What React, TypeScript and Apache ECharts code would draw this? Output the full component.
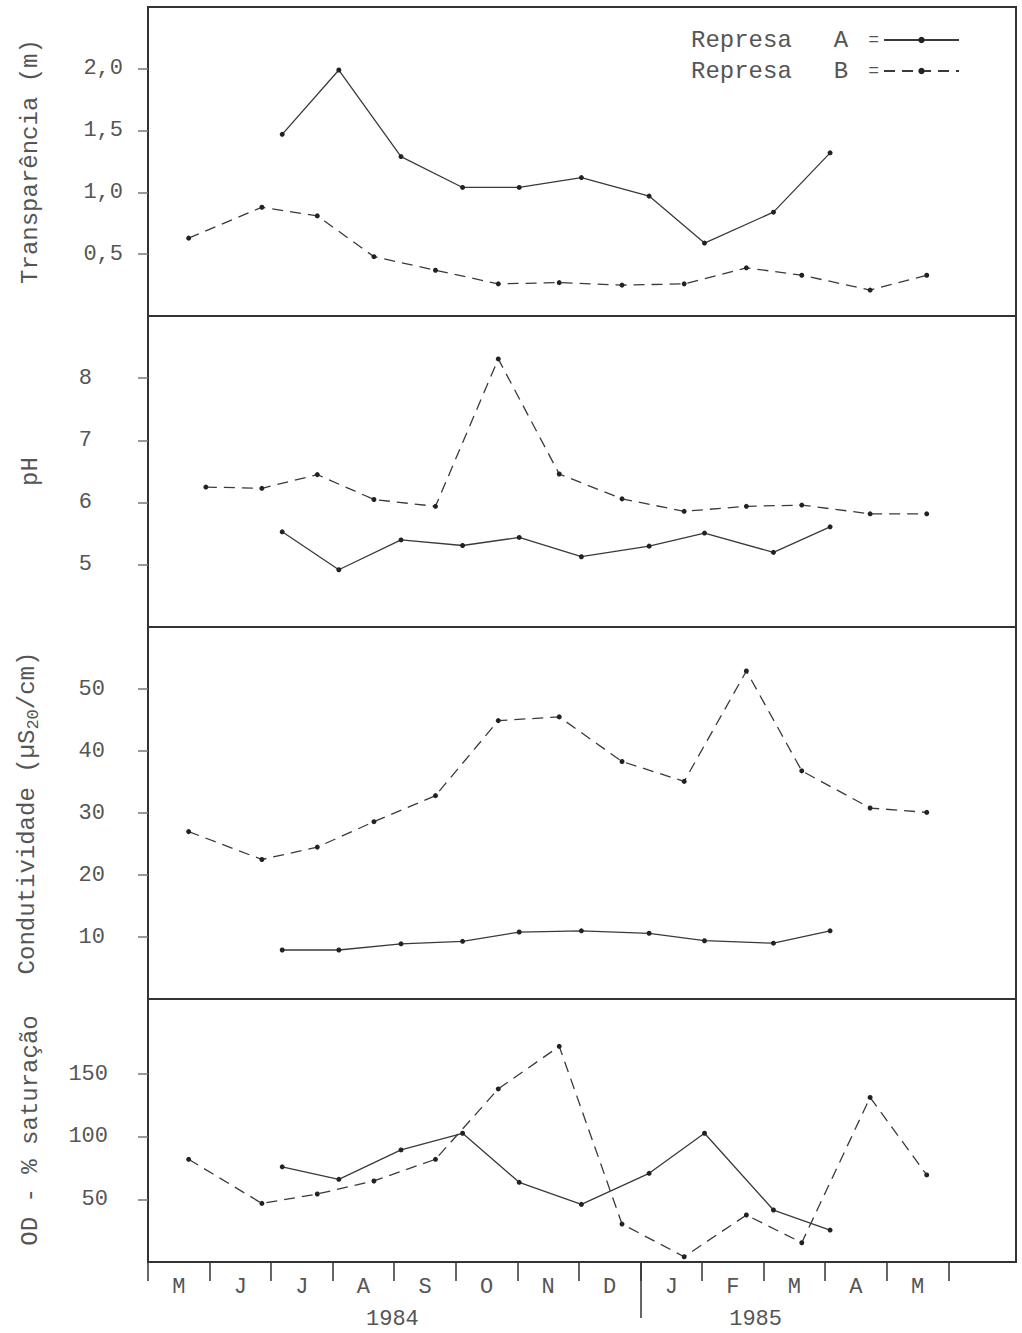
import React, { useEffect, useRef } from "react";
import * as echarts from "echarts";

// ---- data (x = months since start of May 1984) ----
const months = ["M", "J", "J", "A", "S", "O", "N", "D", "J", "F", "M", "A", "M"];
const years = ["1984", "1985"];
const seriesNames = ["Represa A", "Represa B"];

const datesA = [2.18, 3.1, 4.11, 5.11, 6.03, 7.04, 8.14, 9.04, 10.16, 11.08];
const datesB = [0.66, 1.85, 2.75, 3.67, 4.67, 5.69, 6.68, 7.7, 8.71, 9.72, 10.62, 11.73, 12.65];
const phDatesB = [0.94, 1.85, 2.75, 3.67, 4.67, 5.69, 6.68, 7.7, 8.71, 9.72, 10.62, 11.73, 12.65];

const transpA = [1.47, 1.99, 1.29, 1.04, 1.04, 1.12, 0.97, 0.59, 0.84, 1.32];
const transpB = [0.63, 0.88, 0.81, 0.48, 0.37, 0.26, 0.27, 0.25, 0.26, 0.39, 0.33, 0.21, 0.33];
const phA = [5.53, 4.92, 5.4, 5.31, 5.44, 5.13, 5.3, 5.51, 5.2, 5.61];
const phB = [6.25, 6.23, 6.45, 6.05, 5.94, 8.31, 6.46, 6.06, 5.86, 5.94, 5.96, 5.82, 5.82];
const condA = [7.9, 7.9, 8.9, 9.3, 10.8, 11.0, 10.6, 9.4, 9.0, 11.0];
const condB = [27.0, 22.5, 24.5, 28.6, 32.8, 44.9, 45.5, 38.3, 35.1, 52.9, 36.8, 30.8, 30.1];
const odA = [76, 66, 89.5, 102.8, 63.6, 46, 70.8, 102.8, 41.5, 25.5];
const odB = [82, 46.8, 54.3, 64.7, 82, 138.2, 172.2, 30.3, 4.2, 37.5, 15.4, 131.4, 69.5];

const transpTicks = [0.5, 1.0, 1.5, 2.0];
const phTicks = [5, 6, 7, 8];
const condTicks = [10, 20, 30, 40, 50];
const odTicks = [50, 100, 150];

const MONO = "Liberation Mono";
const TEXT = "#555";
const INK = "#3a3a3a";

const pair = (xs: number[], ys: number[]) => ys.map((y, i) => [xs[i], y]);

export default function App() {
  const ref = useRef<HTMLDivElement>(null);
  useEffect(() => {
    if (!ref.current) return;
    const chart = echarts.init(ref.current, undefined, { renderer: "svg" });

    const grids = [
      { left: 148, width: 868, top: 7, height: 309 },
      { left: 148, width: 868, top: 316, height: 311 },
      { left: 148, width: 868, top: 627, height: 372 },
      { left: 148, width: 868, top: 999, height: 263 },
    ].map((g) => ({ ...g, show: true, borderColor: "#333", borderWidth: 2, backgroundColor: "#fff" }));

    const xMax = 14.1;
    const hiddenX = (i: number) => ({
      type: "value",
      gridIndex: i,
      min: 0,
      max: xMax,
      show: false,
    });

    const monthBounds = months.map((_, i) => i).concat([months.length]);
    const monthCenters = months.map((_, i) => i + 0.5);

    const yAxis = (i: number, name: string, min: number, max: number, ticks: number[], margin: number, fmt: (v: number) => string, nameGap: number, extra: any = {}) => ({
      type: "value",
      gridIndex: i,
      min,
      max,
      name,
      nameLocation: "middle",
      nameGap,
      nameTextStyle: { fontFamily: MONO, fontSize: 24, color: TEXT, ...(extra.rich ? { rich: extra.rich } : {}) },
      axisLine: { show: false },
      axisTick: { show: true, inside: false, length: 10, customValues: ticks, lineStyle: { color: "#777", width: 1.5 } },
      axisLabel: { customValues: ticks, margin, formatter: fmt, fontFamily: MONO, fontSize: 22, color: TEXT },
      splitLine: { show: false },
    });

    const lineA = { color: INK, width: 1.3, type: "solid" };
    const lineB = { color: INK, width: 1.3, type: [11, 7] };
    const mk = (name: string, idx: number, data: number[][], isB: boolean) => ({
      type: "line",
      name,
      xAxisIndex: idx,
      yAxisIndex: idx,
      data,
      symbol: "circle",
      symbolSize: 5,
      itemStyle: { color: "#222" },
      lineStyle: isB ? lineB : lineA,
      silent: true,
    });

    const option: any = {
      animation: false,
      backgroundColor: "#fff",
      grid: grids,
      legend: {
        data: seriesNames,
        orient: "vertical",
        left: 686,
        top: 23,
        align: "right",
        itemWidth: 75,
        itemHeight: 8,
        itemGap: 7,
        formatter: (n: string) => {
          const [w, l] = n.split(" ");
          return `{w|${w}}{l|${l}}{e|=}`;
        },
        textStyle: {
          fontFamily: MONO,
          fontSize: 24,
          color: TEXT,
          rich: {
            w: { fontFamily: MONO, fontSize: 24, color: TEXT },
            l: { fontFamily: MONO, fontSize: 24, color: TEXT, padding: [0, 0, 0, 42] },
            e: { fontFamily: MONO, fontSize: 18, color: TEXT, padding: [0, 0, 0, 20] },
          },
        },
      },
      xAxis: [
        hiddenX(0),
        hiddenX(1),
        hiddenX(2),
        {
          type: "value",
          gridIndex: 3,
          min: 0,
          max: xMax,
          axisLine: { show: false },
          axisTick: { show: true, customValues: monthBounds, length: 19, lineStyle: { color: "#333", width: 1.5 } },
          axisLabel: {
            customValues: monthCenters,
            margin: 14,
            fontFamily: MONO,
            fontSize: 22,
            color: TEXT,
            formatter: (v: number) => months[Math.floor(v)] ?? "",
          },
          splitLine: { show: false },
        },
        {
          type: "value",
          gridIndex: 3,
          position: "bottom",
          min: 0,
          max: xMax,
          axisLine: { show: false },
          axisTick: { show: true, customValues: [8], length: 56, lineStyle: { color: "#333", width: 1.5 } },
          axisLabel: {
            customValues: [3.97, 9.87],
            margin: 46,
            fontFamily: MONO,
            fontSize: 22,
            color: TEXT,
            formatter: (v: number) => (v < 8 ? years[0] : years[1]),
          },
          splitLine: { show: false },
        },
      ],
      yAxis: [
        yAxis(0, "Transparência (m)", 0, 2.5, transpTicks, 25, (v) => v.toFixed(1).replace(".", ","), 106),
        yAxis(1, "pH", 4, 9, phTicks, 56, (v) => String(v), 106),
        yAxis(2, "Condutividade (µS{sub|20}/cm)", 0, 60, condTicks, 43, (v) => String(v), 106, {
          rich: { sub: { fontFamily: MONO, fontSize: 17, color: TEXT, padding: [12, 0, 0, 0] } },
        }),
        yAxis(3, "OD - % saturação", 0, 210, odTicks, 40, (v) => String(v), 106),
      ],
      series: [
        mk(seriesNames[0], 0, pair(datesA, transpA), false),
        mk(seriesNames[1], 0, pair(datesB, transpB), true),
        mk(seriesNames[0], 1, pair(datesA, phA), false),
        mk(seriesNames[1], 1, pair(phDatesB, phB), true),
        mk(seriesNames[0], 2, pair(datesA, condA), false),
        mk(seriesNames[1], 2, pair(datesB, condB), true),
        mk(seriesNames[0], 3, pair(datesA, odA), false),
        mk(seriesNames[1], 3, pair(datesB, odB), true),
      ],
    };
    chart.setOption(option);
    return () => chart.dispose();
  }, []);

  return (
    <div
      ref={ref}
      style={{ position: "absolute", left: 0, top: 0, width: 1022, height: 1333, background: "#fff" }}
    />
  );
}
